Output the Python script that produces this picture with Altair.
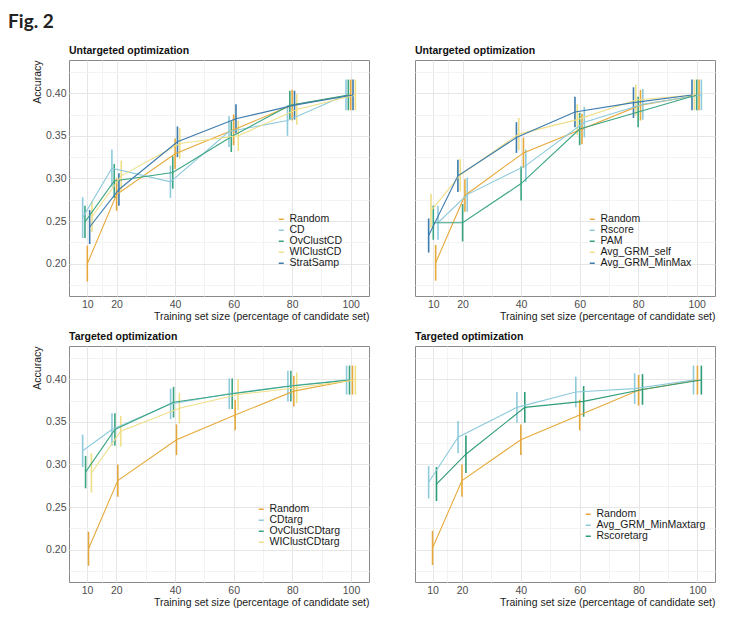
import altair as alt
import pandas as pd

FONT = "Liberation Sans"

x_vals = [10, 20, 40, 60, 80, 100]
x_major = [10, 20, 40, 60, 80, 100]
x_minor = [15, 30, 50, 70, 90]
y_major = [0.20, 0.25, 0.30, 0.35, 0.40]
y_minor = [0.175, 0.225, 0.275, 0.325, 0.375, 0.425]
y_domain = [0.162, 0.439]

c_orange = "#E6A93C"
c_lblue = "#8ECADC"
c_teal = "#3AA583"
c_yellow = "#EEDF88"
c_blue = "#3B7BAE"

# ---- Panel A: untargeted (CD family)
a_names = ["Random", "CD", "OvClustCD", "WIClustCD", "StratSamp"]
a_colors = [c_orange, c_lblue, c_teal, c_yellow, c_blue]
a_random = [0.200, 0.281, 0.329, 0.357, 0.386, 0.398]
a_cd = [0.254, 0.312, 0.296, 0.355, 0.368, 0.398]
a_ov = [0.249, 0.297, 0.307, 0.349, 0.386, 0.398]
a_wi = [0.255, 0.303, 0.341, 0.350, 0.381, 0.398]
a_strat = [0.243, 0.287, 0.343, 0.370, 0.386, 0.398]
a_random_sd = [0.021, 0.019, 0.018, 0.018, 0.018, 0.018]
a_cd_sd = [0.024, 0.022, 0.019, 0.018, 0.018, 0.018]
a_ov_sd = [0.019, 0.020, 0.019, 0.018, 0.017, 0.018]
a_wi_sd = [0.018, 0.018, 0.018, 0.018, 0.018, 0.018]
a_strat_sd = [0.020, 0.019, 0.018, 0.017, 0.017, 0.018]

# ---- Panel B: untargeted (GRM family)
b_names = ["Random", "Rscore", "PAM", "Avg_GRM_self", "Avg_GRM_MinMax"]
b_colors = [c_orange, c_lblue, c_teal, c_yellow, c_blue]
b_random = [0.201, 0.280, 0.330, 0.358, 0.386, 0.398]
b_rscore = [0.248, 0.281, 0.315, 0.366, 0.387, 0.398]
b_pam = [0.248, 0.248, 0.294, 0.358, 0.378, 0.398]
b_self = [0.262, 0.304, 0.352, 0.369, 0.392, 0.398]
b_minmax = [0.233, 0.303, 0.348, 0.378, 0.389, 0.398]
b_random_sd = [0.021, 0.019, 0.018, 0.018, 0.018, 0.018]
b_rscore_sd = [0.020, 0.020, 0.019, 0.018, 0.018, 0.018]
b_pam_sd = [0.020, 0.022, 0.020, 0.019, 0.018, 0.018]
b_self_sd = [0.020, 0.019, 0.019, 0.018, 0.018, 0.018]
b_minmax_sd = [0.020, 0.019, 0.018, 0.018, 0.018, 0.018]

# ---- Panel C: targeted (CD family)
c_names = ["Random", "CDtarg", "OvClustCDtarg", "WIClustCDtarg"]
c_colors = [c_orange, c_lblue, c_teal, c_yellow]
c_random = [0.201, 0.281, 0.329, 0.358, 0.386, 0.399]
c_cd = [0.316, 0.341, 0.371, 0.383, 0.392, 0.399]
c_ov = [0.291, 0.341, 0.373, 0.383, 0.392, 0.399]
c_wi = [0.290, 0.339, 0.366, 0.382, 0.390, 0.399]
c_random_sd = [0.020, 0.019, 0.018, 0.018, 0.018, 0.017]
c_cd_sd = [0.019, 0.019, 0.018, 0.018, 0.018, 0.017]
c_ov_sd = [0.019, 0.019, 0.018, 0.018, 0.018, 0.017]
c_wi_sd = [0.023, 0.018, 0.018, 0.018, 0.018, 0.017]

# ---- Panel D: targeted (GRM family)
d_names = ["Random", "Avg_GRM_MinMaxtarg", "Rscoretarg"]
d_colors = [c_orange, c_lblue, "#2F9C78"]
d_random = [0.202, 0.281, 0.329, 0.358, 0.387, 0.399]
d_minmax = [0.279, 0.332, 0.367, 0.385, 0.389, 0.399]
d_rscore = [0.277, 0.312, 0.367, 0.374, 0.388, 0.399]
d_random_sd = [0.020, 0.019, 0.018, 0.018, 0.018, 0.017]
d_minmax_sd = [0.019, 0.019, 0.018, 0.018, 0.018, 0.017]
d_rscore_sd = [0.020, 0.022, 0.018, 0.018, 0.018, 0.017]

x_title = "Training set size (percentage of candidate set)"

x_label_expr = "indexof([10,20,40,60,80,100], datum.value) >= 0 ? datum.label : ''"
x_grid = {"condition": {"test": "indexof([10,20,40,60,80,100], datum.value) >= 0",
                        "value": "#e6e6e6"}, "value": "#f3f3f3"}
y_test = "round(datum.value*1000) % 50 == 0"
y_label_expr = y_test + " ? format(datum.value, '.2f') : ''"
y_grid = {"condition": {"test": y_test, "value": "#e6e6e6"}, "value": "#f3f3f3"}


def panel(title, names, colors, means, sds, lx, ly, show_y):
    n = len(names)
    order = sorted(names)
    step = 4.0 / n
    rows = []
    for name, m, s in zip(names, means, sds):
        k = order.index(name)
        off = (k - (n - 1) / 2) * step
        for x, mv, sv in zip(x_vals, m, s):
            rows.append(dict(series=name, k=k, x=x, xd=x + off,
                             acc=mv, lo=mv - sv, hi=mv + sv))
    df = pd.DataFrame(rows)
    xmin = min(x_vals) - (n - 1) / 2 * step
    xmax = max(x_vals) + (n - 1) / 2 * step
    ex = 0.05 * (xmax - xmin)
    xs = alt.Scale(domain=[xmin - ex, xmax + ex], nice=False, zero=False)
    ys = alt.Scale(domain=y_domain, nice=False, zero=False)
    xa = alt.Axis(values=x_major + x_minor, labelExpr=x_label_expr, gridColor=x_grid,
                  title=x_title, titleAnchor="end", labelPadding=3, titlePadding=2,
                  labelFlush=False)
    if show_y:
        ya = alt.Axis(values=y_major + y_minor, labelExpr=y_label_expr, gridColor=y_grid,
                      title="Accuracy", titleAnchor="end", labelPadding=3, titlePadding=3)
    else:
        ya = alt.Axis(values=y_major + y_minor, labels=False, gridColor=y_grid,
                      title=None, minExtent=0, maxExtent=0)
    color = alt.Color("series:N", scale=alt.Scale(domain=names, range=colors),
                      sort=names,
                      legend=alt.Legend(orient="none", legendX=lx, legendY=ly, title=None,
                                        symbolType="stroke", symbolSize=25,
                                        symbolStrokeWidth=1.5, labelFontSize=10.5,
                                        labelFont=FONT, labelColor="#1a1a1a",
                                        rowPadding=0, labelOffset=3, padding=0))
    base = alt.Chart(df)
    bars = base.mark_rule(strokeWidth=1.6).encode(
        x=alt.X("xd:Q", scale=xs, axis=xa),
        y=alt.Y("lo:Q", scale=ys, axis=ya),
        y2="hi:Q",
        color=color,
    )
    lines = base.mark_line(strokeWidth=1.1).encode(
        x=alt.X("xd:Q", scale=xs, axis=xa),
        y=alt.Y("acc:Q", scale=ys, axis=ya),
        color=color,
        order="x:Q",
    )
    return alt.layer(bars, lines).properties(
        width=300, height=236,
        title=alt.Title(title, anchor="start", frame="group", fontSize=10.5, font=FONT,
                        fontWeight="bold", color="#111111", offset=4),
    )


pA = panel("Untargeted optimization", a_names, a_colors,
           [a_random, a_cd, a_ov, a_wi, a_strat],
           [a_random_sd, a_cd_sd, a_ov_sd, a_wi_sd, a_strat_sd], 207, 154, True)
pB = panel("Untargeted optimization", b_names, b_colors,
           [b_random, b_rscore, b_pam, b_self, b_minmax],
           [b_random_sd, b_rscore_sd, b_pam_sd, b_self_sd, b_minmax_sd], 172, 154, False)
pC = panel("Targeted optimization", c_names, c_colors,
           [c_random, c_cd, c_ov, c_wi],
           [c_random_sd, c_cd_sd, c_ov_sd, c_wi_sd], 187, 158, True)
pD = panel("Targeted optimization", d_names, d_colors,
           [d_random, d_minmax, d_rscore],
           [d_random_sd, d_minmax_sd, d_rscore_sd], 168, 163, False)

top = alt.hconcat(pA, pB, spacing=44).resolve_scale(color="independent")
bottom = alt.hconcat(pC, pD, spacing=44).resolve_scale(color="independent")

chart = alt.vconcat(top, bottom, spacing=8).resolve_scale(
    color="independent"
).properties(
    title=alt.Title("Fig. 2", anchor="start", fontSize=19, font="Lato", fontWeight="bold",
                    color="#222222", dx=-24, offset=13),
    padding={"left": 0, "top": 5, "right": 0, "bottom": 0},
).configure_view(
    stroke="#8a8a8a", strokeWidth=1
).configure_axis(
    labelFont=FONT, titleFont=FONT, labelFontSize=10.5, titleFontSize=10.5,
    labelColor="#4d4d4d", titleColor="#1a1a1a", titleFontWeight="normal",
    domain=False, ticks=False,
)

chart.save("out.html", embed_options={"renderer": "svg", "actions": False})
